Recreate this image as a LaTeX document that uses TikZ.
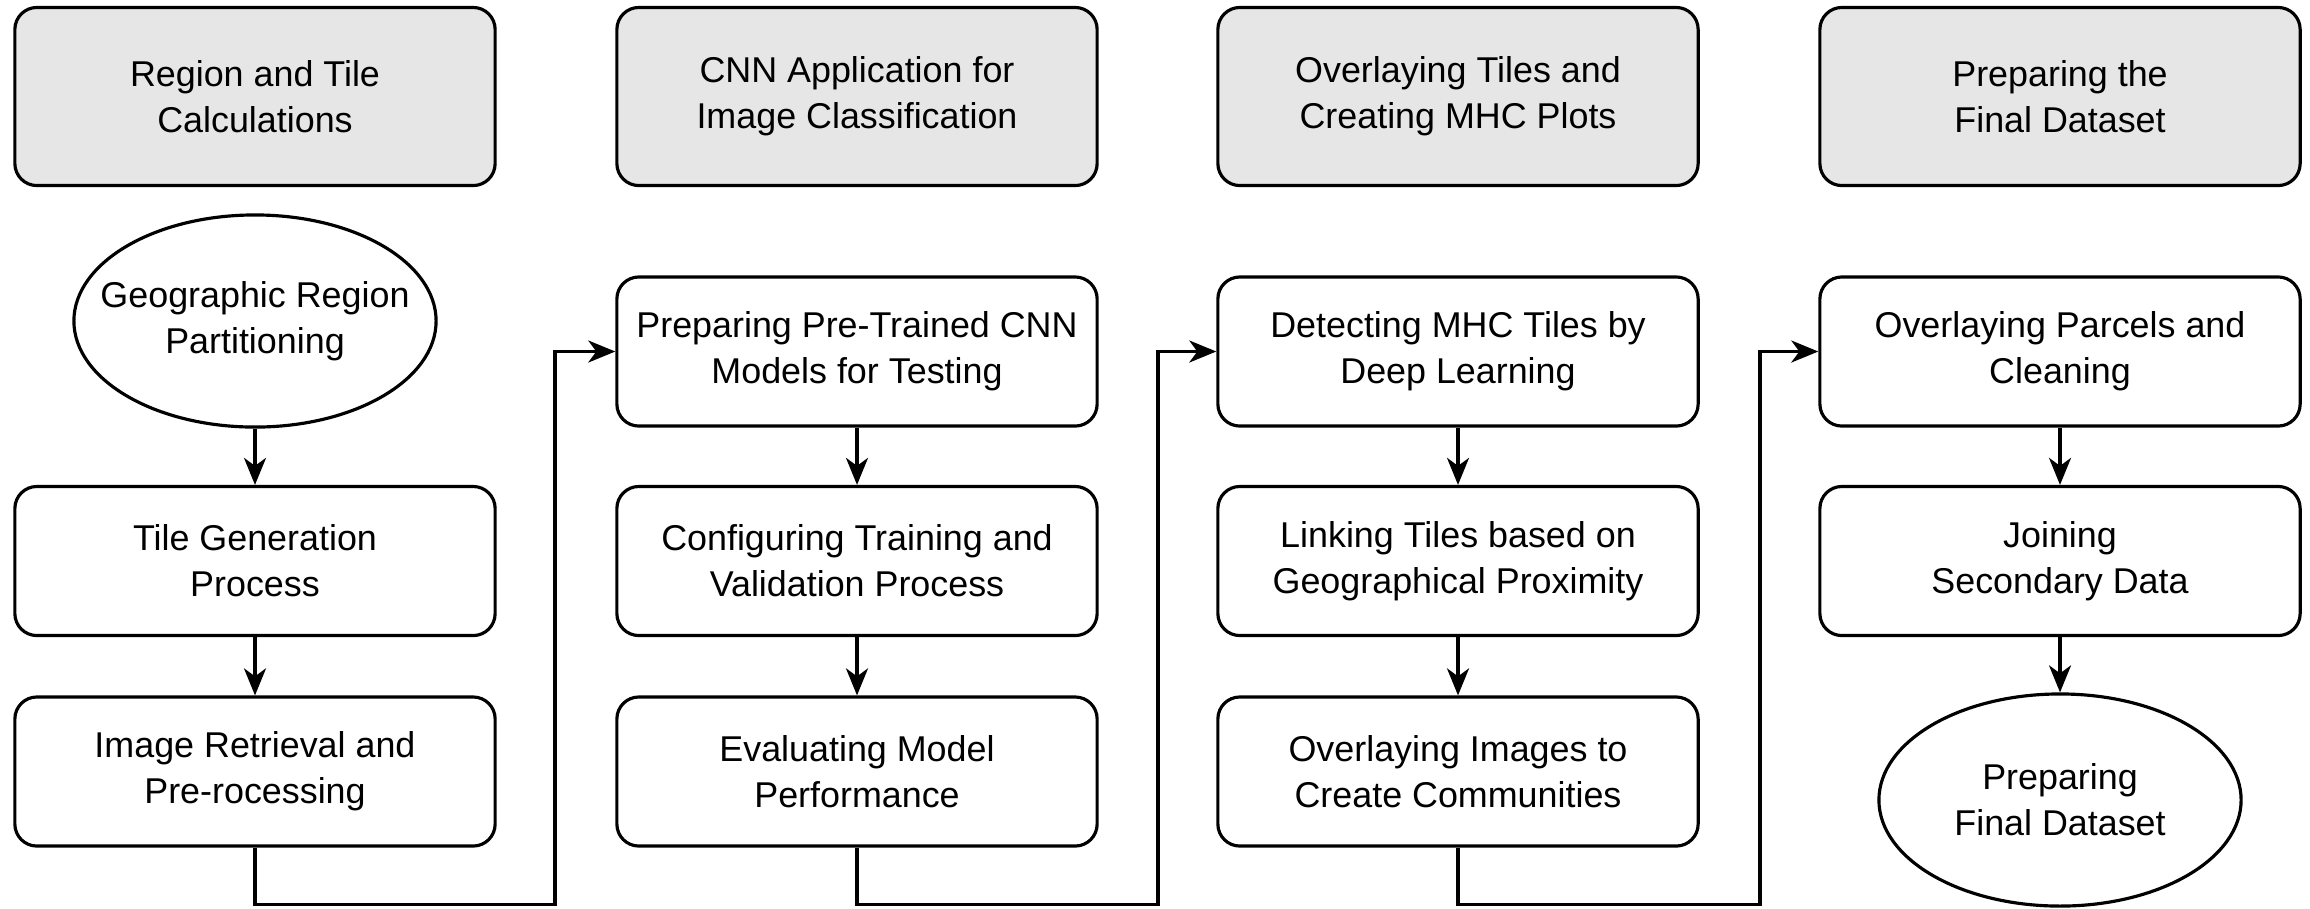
\documentclass[tikz,border=0pt]{standalone}
\usepackage{fontspec}
\setmainfont{Liberation Sans}
\usetikzlibrary{shapes.geometric,arrows.meta}
\definecolor{hdrgray}{HTML}{E6E6E6}
\begin{document}
\begin{tikzpicture}[x=0.01cm,y=-0.01cm,
  base/.style={draw=black,line width=0.9pt,align=center,inner sep=0pt,
    font=\fontsize{10.2}{13}\selectfont},
  header/.style={base,rounded corners=0.22cm,fill=hdrgray,minimum width=4.80cm,minimum height=1.78cm},
  stepbox/.style={base,rounded corners=0.22cm,fill=white,minimum width=4.80cm,minimum height=1.49cm},
  oval/.style={base,ellipse,fill=white,inner xsep=-0.27cm,minimum width=3.62cm,minimum height=2.12cm},
  conn/.style={line width=0.9pt,-{Stealth[length=0.27cm,width=0.22cm,inset=0.08cm]}}
]
\useasboundingbox (0,0) rectangle (2310,908);
% headers
\node[header] (h1) at (255,96.5) {Region and Tile\\Calculations};
\node[header] (h2) at (857,96.5) {CNN Application for\\Image Classification};
\node[header] (h3) at (1458,96.5) {Overlaying Tiles and\\Creating MHC Plots};
\node[header] (h4) at (2060,96.5) {Preparing the\\Final Dataset};
% column 1
\node[oval] (a1) at (255,321) {Geographic Region\\Partitioning};
\node[stepbox] (a2) at (255,561) {Tile Generation\\Process};
\node[stepbox] (a3) at (255,771.5) {Image Retrieval and\\Pre-rocessing};
% column 2
\node[stepbox] (b1) at (857,351.5) {Preparing Pre-Trained CNN\\Models for Testing};
\node[stepbox] (b2) at (857,561) {Configuring Training and\\Validation Process};
\node[stepbox] (b3) at (857,771.5) {Evaluating Model\\Performance};
% column 3
\node[stepbox] (c1) at (1458,351.5) {Detecting MHC Tiles by\\Deep Learning};
\node[stepbox] (c2) at (1458,561) {Linking Tiles based on\\Geographical Proximity};
\node[stepbox] (c3) at (1458,771.5) {Overlaying Images to\\Create Communities};
% column 4
\node[stepbox] (d1) at (2060,351.5) {Overlaying Parcels and\\Cleaning};
\node[stepbox] (d2) at (2060,561) {Joining\\Secondary Data};
\node[oval] (d3) at (2060,800) {Preparing\\Final Dataset};
% vertical arrows
\draw[conn] (a1) -- (a2);
\draw[conn] (a2) -- (a3);
\draw[conn] (b1) -- (b2);
\draw[conn] (b2) -- (b3);
\draw[conn] (c1) -- (c2);
\draw[conn] (c2) -- (c3);
\draw[conn] (d1) -- (d2);
\draw[conn] (d2) -- (d3);
% linking connectors
\coordinate (l1) at (555,904.5);
\coordinate (l2) at (1158,904.5);
\coordinate (l3) at (1760,904.5);
\draw[conn] (a3.south) |- (l1) |- (b1.west);
\draw[conn] (b3.south) |- (l2) |- (c1.west);
\draw[conn] (c3.south) |- (l3) |- (d1.west);
\end{tikzpicture}
\end{document}
